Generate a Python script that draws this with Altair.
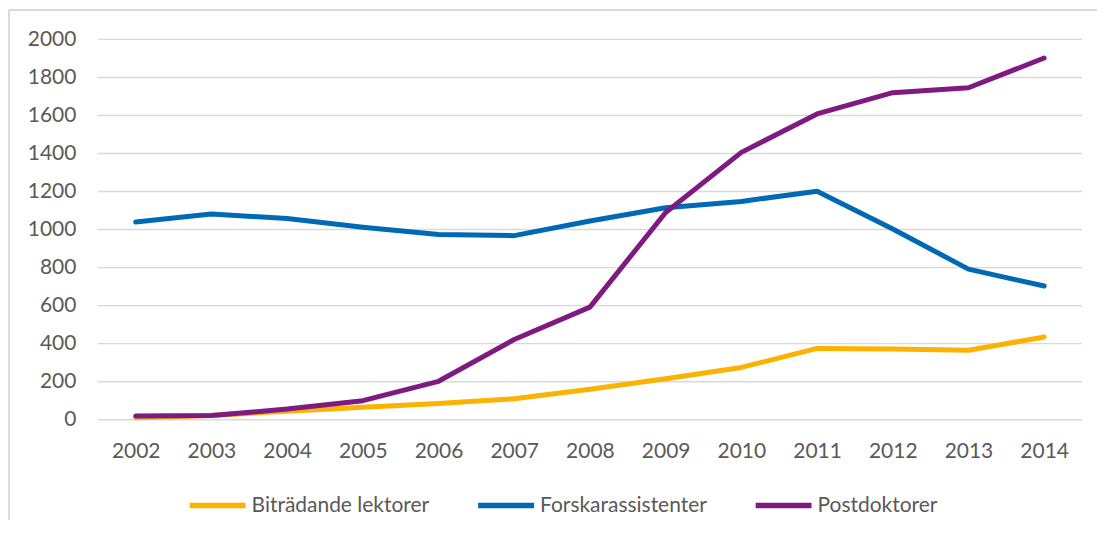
import altair as alt
import pandas as pd

years = [str(y) for y in range(2002, 2015)]
series_names = ["Biträdande lektorer", "Forskarassistenter", "Postdoktorer"]
bitradande = [10, 22, 45, 65, 85, 110, 160, 215, 275, 375, 372, 365, 435]
forskarass = [1040, 1082, 1058, 1012, 974, 968, 1045, 1115, 1148, 1202, 1003, 792, 703]
postdok = [19, 22, 56, 100, 202, 422, 592, 1090, 1406, 1608, 1720, 1746, 1902]
y_ticks = list(range(0, 2001, 200))
colors = ["#FCB200", "#0069B4", "#7E1A80"]

rows = []
for name, vals in zip(series_names, [bitradande, forskarass, postdok]):
    for y, v in zip(years, vals):
        rows.append({"År": y, "Serie": name, "Antal": v})
df = pd.DataFrame(rows)
grid_df = pd.DataFrame({"Antal": y_ticks})

FONT = "Lato"
TXT = "#595959"
GRID = "#D9D9D9"

border_left = alt.Chart(df).mark_rule(stroke=GRID, strokeWidth=1.3).encode(
    x=alt.value(-88.7), y=alt.value(-29.2), y2=alt.value(700)
)
border_top = alt.Chart(df).mark_rule(stroke=GRID, strokeWidth=1.3).encode(
    x=alt.value(-88.7), x2=alt.value(1100), y=alt.value(-29.2)
)

y_scale = alt.Scale(domain=[0, 2000], nice=False)
y_axis = alt.Axis(title=None, values=y_ticks, grid=False, format="d",
                  domain=False, ticks=False,
                  labelPadding=22, labelFont=FONT, labelFontSize=21, labelColor=TXT)

gridlines = alt.Chart(grid_df).mark_rule(stroke=GRID, strokeWidth=1.4).encode(
    y=alt.Y("Antal:Q", scale=y_scale, axis=y_axis)
)

lines = alt.Chart(df).mark_line(strokeWidth=5, strokeCap="round", strokeJoin="round").encode(
    x=alt.X("År:O", sort=years, scale=alt.Scale(type="point", padding=0.5),
            axis=alt.Axis(title=None, labelAngle=0, grid=False, domain=False,
                          ticks=False, labelPadding=21, labelFont=FONT, labelFontSize=21,
                          labelColor=TXT)),
    y=alt.Y("Antal:Q", scale=y_scale, axis=y_axis),
    color=alt.Color("Serie:N", sort=series_names,
                    scale=alt.Scale(domain=series_names, range=colors),
                    legend=alt.Legend(title=None, orient="none", direction="horizontal",
                                      legendX=89, legendY=436, symbolType="stroke",
                                      symbolSize=3136, symbolStrokeWidth=5.5,
                                      labelFont=FONT, labelFontSize=21, labelColor=TXT,
                                      labelLimit=0, labelOffset=3, columnPadding=37)),
)

chart = alt.layer(border_left, border_top, gridlines, lines).properties(
    width=986, height=381,
    background="white",
    autosize=alt.AutoSizeParams(type="none"),
    padding={"left": 90, "top": 31, "right": 15, "bottom": 100},
).configure_view(stroke=None, strokeWidth=0).configure_axis(domain=False)

chart.save("out.html", embed_options={"renderer": "svg", "actions": False})
